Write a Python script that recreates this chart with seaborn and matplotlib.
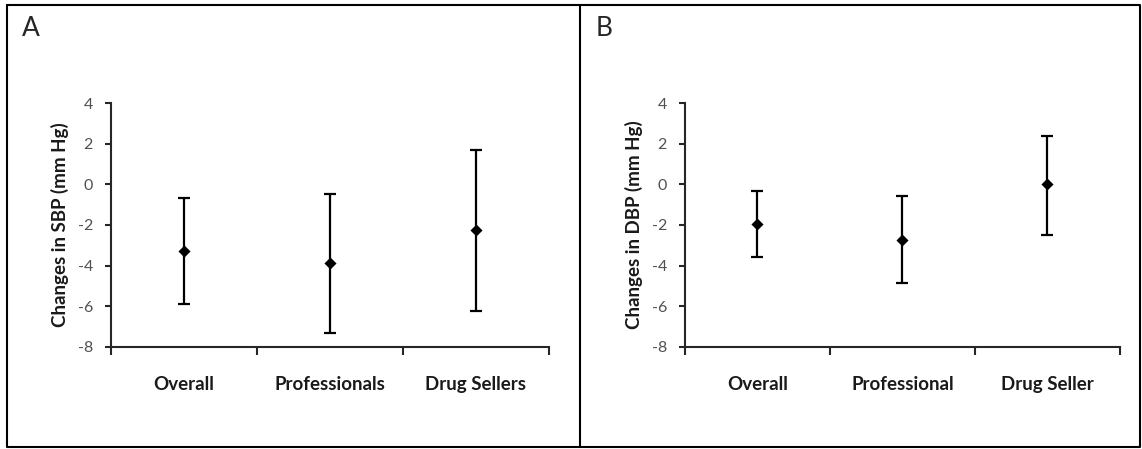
import numpy as np
import pandas as pd
import matplotlib
matplotlib.use("Agg")
import matplotlib.pyplot as plt
import seaborn as sns

# Panel A - systolic
groups_a = ["Overall", "Professionals", "Drug Sellers"]
sbp_mean = [-3.27, -3.89, -2.27]
sbp_low = [-5.87, -7.33, -6.22]
sbp_high = [-0.68, -0.46, 1.70]

# Panel B - diastolic
groups_b = ["Overall", "Professional", "Drug Seller"]
dbp_mean = [-1.97, -2.74, 0.03]
dbp_low = [-3.57, -4.85, -2.48]
dbp_high = [-0.33, -0.55, 2.37]

y_ticks = [-8, -6, -4, -2, 0, 2, 4]

sns.set_style("ticks")
plt.rcParams["font.family"] = ["Lato", "DejaVu Sans"]

fig = plt.figure(figsize=(11.42, 4.49), dpi=100)

panels = [
    ("A", groups_a, sbp_mean, sbp_low, sbp_high, "Changes in SBP (mm Hg)", [0.0972, 0.2272, 0.3835, 0.5434]),
    ("B", groups_b, dbp_mean, dbp_low, dbp_high, "Changes in DBP (mm Hg)", [0.5998, 0.2272, 0.3809, 0.5434]),
]

for letter, groups, mean, low, high, ylabel, rect in panels:
    df = pd.DataFrame({"group": groups, "mean": mean, "low": low, "high": high})
    df["pos"] = np.arange(len(df)) + 0.5
    ax = fig.add_axes(rect)
    yerr = [df["mean"] - df["low"], df["high"] - df["mean"]]
    ax.errorbar(df["pos"], df["mean"], yerr=yerr, fmt="none", ecolor="black",
                elinewidth=1.6, capsize=4.5, capthick=1.6, zorder=2)
    sns.scatterplot(data=df, x="pos", y="mean", marker="D", color="black",
                    s=38, edgecolor="black", linewidth=0, ax=ax, zorder=3)

    ax.set_xlim(0, len(df))
    ax.set_ylim(-8, 4)
    ax.set_yticks(y_ticks)
    ax.set_yticklabels([str(t) for t in y_ticks], fontsize=11.5, color="#505050")
    ax.set_xticks(np.arange(len(df) + 1))
    ax.set_xticklabels([])
    ax.set_xticks(df["pos"], minor=True)
    ax.set_xticklabels(df["group"], minor=True, fontsize=13.5, fontweight="bold",
                       color="#1a1a1a")
    ax.tick_params(axis="x", which="major", length=6, width=1.5, direction="out")
    ax.tick_params(axis="x", which="minor", length=0, pad=21)
    ax.tick_params(axis="y", length=4, width=1.5, direction="out", pad=9)
    ax.set_xlabel("")
    ax.set_ylabel(ylabel, fontsize=13.5, fontweight="bold", color="#1a1a1a", labelpad=6)
    sns.despine(ax=ax)
    for s in ["left", "bottom"]:
        ax.spines[s].set_linewidth(1.5)

# panel frames and letters
frame = fig.add_axes([0, 0, 1, 1], zorder=-1)
frame.set_xlim(0, 1142)
frame.set_ylim(449, 0)
frame.axis("off")
frame.plot([7, 1140, 1140, 7, 7], [5, 5, 447, 447, 5], color="black", lw=1.5)
frame.plot([580, 580], [5, 447], color="black", lw=1.5)
fig.text(22 / 1142, 1 - 28 / 449, "A", fontsize=19, va="center", ha="left")
fig.text(596 / 1142, 1 - 28 / 449, "B", fontsize=19, va="center", ha="left")

fig.savefig("out.png", dpi=100)
